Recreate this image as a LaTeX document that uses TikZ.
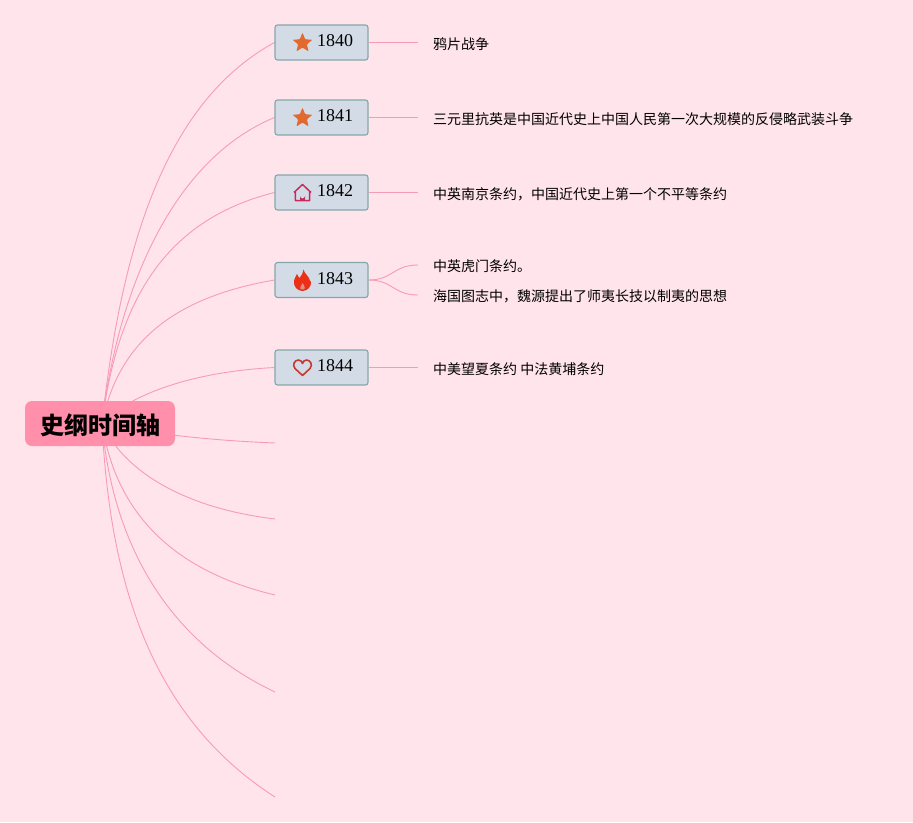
\documentclass[tikz,border=0pt]{standalone}
\usepackage{fontspec}
\setmainfont{Liberation Serif}
\newfontfamily\cjkfont{Noto Sans CJK SC}
\usetikzlibrary{shapes.geometric}
\pgfdeclarelayer{pagelayer}
\pgfdeclarelayer{lines}
\pgfsetlayers{pagelayer,lines,main}
\definecolor{pagebg}{HTML}{FFE4EC}
\definecolor{linkpink}{HTML}{F79BB8}
\definecolor{rootpink}{HTML}{FF8FAB}
\definecolor{boxfill}{HTML}{D3DCE6}
\definecolor{boxline}{HTML}{84A8A8}
\definecolor{starcol}{HTML}{E2692F}
\definecolor{housecol}{HTML}{C92A5E}
\definecolor{flamecol}{HTML}{EE2F17}
\definecolor{heartcol}{HTML}{C8382E}
\tikzset{
 x=1pt,y=-1pt,
 rootbox/.style={fill=rootpink,rounded corners=7pt,minimum width=150pt,minimum height=45pt,inner sep=0pt},
 roottext/.style={inner sep=0pt,font=\cjkfont\fontsize{24}{26}\selectfont\bfseries},
 yearbox/.style={draw=boxline,line width=1.1pt,fill=boxfill,rounded corners=2.5pt,minimum width=93pt,minimum height=35pt,inner sep=0pt},
 yeartext/.style={inner sep=0pt,font=\fontsize{18}{20}\selectfont},
 leaf/.style={anchor=west,inner sep=0pt,font=\cjkfont\fontsize{14}{16}\selectfont},
 link/.style={draw=linkpink,line width=0.9pt},
 staricon/.style={star,star points=5,star point ratio=2.3,fill=starcol,inner sep=0pt,minimum size=21pt,rounded corners=1pt},
}
\begin{document}
\begin{tikzpicture}
\useasboundingbox (0,0) rectangle (913,822);
\begin{pgfonlayer}{pagelayer}
\fill[pagebg] (0,0) rectangle (913,822);
\end{pgfonlayer}
\node[rootbox] (root) at (100,423.5) {};
\node[roottext] (roott) at (100,425) {史纲时间轴};
\coordinate (hub) at (102,423);
\node[yearbox] (y1) at (321.5,42.5) {};
\node[yearbox] (y2) at (321.5,117.5) {};
\node[yearbox] (y3) at (321.5,192.5) {};
\node[yearbox] (y4) at (321.5,280) {};
\node[yearbox] (y5) at (321.5,367.5) {};
\node[yeartext] (t1) at (335,40.5) {1840};
\node[yeartext] (t2) at (335,115.5) {1841};
\node[yeartext] (t3) at (335,190.5) {1842};
\node[yeartext] (t4) at (335,278.5) {1843};
\node[yeartext] (t5) at (335,365.5) {1844};
\node[staricon] (i1) at (302.5,43) {};
\node[staricon] (i2) at (302.5,118) {};
% house icon
\draw[housecol,line width=1.5pt,line join=round] (294,192.5) -- (302.5,184.5) -- (311,192.5) (295.3,191.5) -- (295.3,200.5) -- (309.7,200.5) -- (309.7,191.5);
\fill[housecol] (300,200.5) -- (300,196) arc[start angle=180,end angle=0,radius=2.5] -- (305,200.5) -- cycle;
% flame icon
\fill[flamecol] (303.5,269.5) .. controls (304.5,274) and (308,275) .. (309,278) .. controls (310,280) and (310,282) .. (311,282) .. controls (311.5,286) and (308,291) .. (302.5,291) .. controls (297,291) and (293.5,286) .. (294,282) .. controls (294,278) and (296,277) .. (297,274) .. controls (298,276) and (298.5,277) .. (299.5,278) .. controls (301,275) and (304,273) .. (303.5,269.5) -- cycle;
\fill[boxfill!55!flamecol] (302.5,283) .. controls (303.5,285) and (305,286) .. (304.8,288) .. controls (304.5,290) and (300.5,290) .. (300.2,288) .. controls (300.2,286) and (302,285.5) .. (302.5,283) -- cycle;
% heart icon
\draw[heartcol,line width=1.6pt,line join=round] (302.5,375.5) -- (295,368.5) .. controls (292,365) and (294.5,360) .. (298.5,360) .. controls (300.5,360) and (302,361.5) .. (302.5,363.5) .. controls (303,361.5) and (304.5,360) .. (306.5,360) .. controls (310.5,360) and (313,365) .. (310,368.5) -- cycle;
\node[leaf] (l1) at (433,44) {鸦片战争};
\node[leaf] (l2) at (433,119) {三元里抗英是中国近代史上中国人民第一次大规模的反侵略武装斗争};
\node[leaf] (l3) at (433,194) {中英南京条约，中国近代史上第一个不平等条约};
\node[leaf] (l4a) at (433,266) {中英虎门条约。};
\node[leaf] (l4b) at (433,296) {海国图志中，魏源提出了师夷长技以制夷的思想};
\node[leaf] (l5) at (433,369) {中美望夏条约 中法黄埔条约};
\coordinate (e1) at (275,443);
\coordinate (e2) at (275,519);
\coordinate (e3) at (275,595);
\coordinate (e4) at (275,692);
\coordinate (e5) at (275,797);
\coordinate (c1) at (418,42.5);
\coordinate (c2) at (418,117.5);
\coordinate (c3) at (418,192.5);
\coordinate (c4a) at (418,265);
\coordinate (c4b) at (418,295);
\coordinate (c5) at (418,367.5);
\begin{pgfonlayer}{lines}
\draw[link] (hub) .. controls (120,260) and (160,105) .. (y1.west);
\draw[link] (hub) .. controls (118,290) and (172,160) .. (y2.west);
\draw[link] (hub) .. controls (118,300) and (165,220) .. (y3.west);
\draw[link] (hub) .. controls (118,345) and (170,298) .. (y4.west);
\draw[link] (hub) .. controls (130,395) and (190,372) .. (y5.west);
\draw[link] (hub) .. controls (140,432) and (200,440) .. (e1);
\draw[link] (hub) .. controls (120,465) and (175,507) .. (e2);
\draw[link] (hub) .. controls (115,510) and (170,570) .. (e3);
\draw[link] (hub) .. controls (112,540) and (165,640) .. (e4);
\draw[link] (hub) .. controls (110,590) and (155,720) .. (e5);
\draw[link] (y1.east) -- (c1);
\draw[link] (y2.east) -- (c2);
\draw[link] (y3.east) -- (c3);
\draw[link] (y4.east) .. controls (393,280) and (393,265) .. (c4a);
\draw[link] (y4.east) .. controls (393,280) and (393,295) .. (c4b);
\draw[link] (y5.east) -- (c5);
\end{pgfonlayer}
\end{tikzpicture}
\end{document}
